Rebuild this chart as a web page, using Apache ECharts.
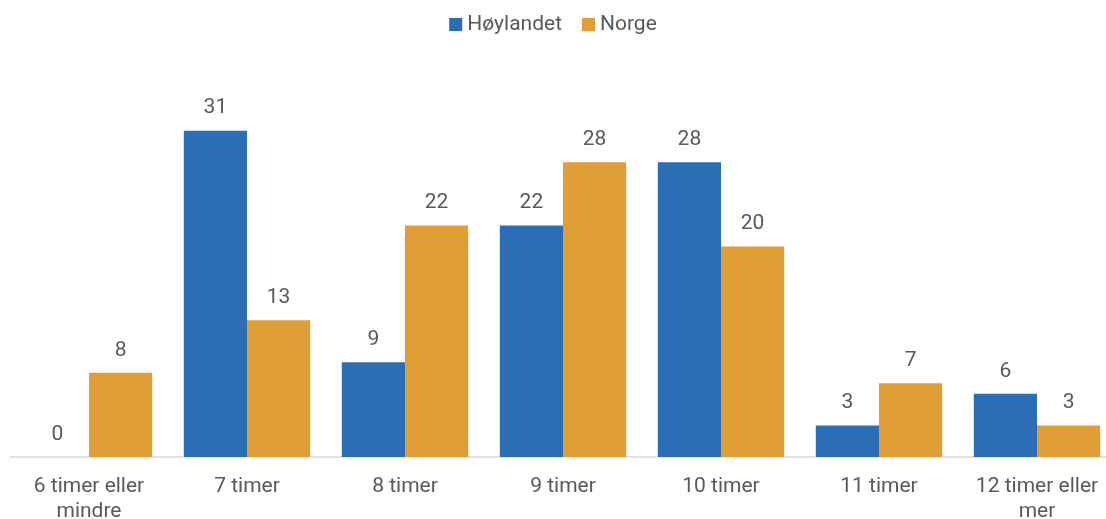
<!DOCTYPE html>
<html>
<head>
<meta charset="utf-8">
<script src="https://cdn.jsdelivr.net/npm/echarts@6/dist/echarts.min.js"></script>
<style>
  html, body { margin: 0; padding: 0; background: #fff; }
  #chart { width: 1106px; height: 519px; }
</style>
</head>
<body>
<div id="chart"></div>
<script>
// Søvnlengde: andel (%) per kategori
const categories = ['6 timer eller\nmindre', '7 timer', '8 timer', '9 timer', '10 timer', '11 timer', '12 timer eller\nmer'];
const hoylandet = [0, 31, 9, 22, 28, 3, 6];
const norge = [8, 13, 22, 28, 20, 7, 3];

const textColor = '#595959';
const fontFamily = 'Roboto, "Noto Sans", sans-serif';

const chart = echarts.init(document.getElementById('chart'));
const labelStyle = {
  show: true,
  position: 'top',
  distance: 12,
  color: textColor,
  fontSize: 21,
  fontFamily: fontFamily
};

chart.setOption({
  animation: false,
  legend: {
    top: 9,
    left: 'center',
    itemWidth: 13,
    itemHeight: 13,
    itemGap: 20,
    icon: 'rect',
    textStyle: { color: textColor, fontSize: 21, fontFamily: fontFamily },
    data: ['Høylandet', 'Norge']
  },
  grid: {
    left: 10,
    width: 1106,
    top: 78,
    bottom: 62,
    containLabel: false,
    outerBoundsMode: 'none'
  },
  xAxis: {
    type: 'category',
    data: categories,
    axisLine: { lineStyle: { color: '#d9d9d9', width: 1.5 } },
    axisTick: { show: false },
    axisLabel: {
      interval: 0,
      color: textColor,
      fontSize: 21,
      fontFamily: fontFamily,
      lineHeight: 25,
      margin: 17
    }
  },
  yAxis: {
    type: 'value',
    min: 0,
    max: 36,
    show: false,
    splitLine: { show: false }
  },
  series: [
    {
      name: 'Høylandet',
      type: 'bar',
      data: hoylandet,
      barGap: '0%',
      barCategoryGap: '20%',
      itemStyle: { color: '#2C6EB5' },
      label: labelStyle
    },
    {
      name: 'Norge',
      type: 'bar',
      data: norge,
      barGap: '0%',
      barCategoryGap: '20%',
      itemStyle: { color: '#E09E36' },
      label: labelStyle
    }
  ]
});
</script>
</body>
</html>
